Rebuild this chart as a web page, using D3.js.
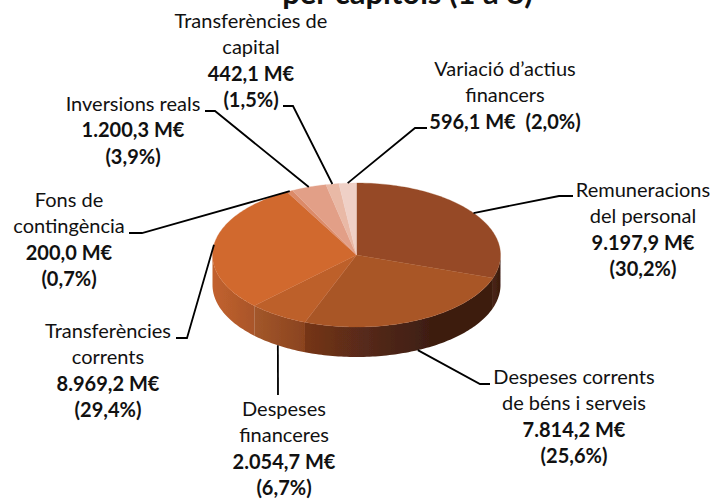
<!DOCTYPE html>
<html>
<head>
<meta charset="utf-8">
<script src="https://cdn.jsdelivr.net/npm/d3@7"></script>
<style>
html, body { margin: 0; padding: 0; background: #fff; }
svg { display: block; }
text { font-family: Lato, "Open Sans", sans-serif; fill: #111; text-anchor: middle; }
</style>
</head>
<body>
<div id="canvas"></div>
<script>
// chapters in drawing order, clockwise from 12 o'clock
const categories = [
    ["Remuneracions", "del personal"],
    ["Despeses corrents", "de béns i serveis"],
    ["Despeses", "financeres"],
    ["Transferències", "corrents"],
    ["Fons de", "contingència"],
    ["Inversions reals"],
    ["Transferències de", "capital"],
    ["Variació d’actius", "financers"]
];
const amounts = [9197.9, 7814.2, 2054.7, 8969.2, 200.0, 1200.3, 442.1, 596.1];
const amountLabels = ["9.197,9 M€", "7.814,2 M€", "2.054,7 M€", "8.969,2 M€", "200,0 M€", "1.200,3 M€", "442,1 M€", "596,1 M€"];
const shareLabels = ["(30,2%)", "(25,6%)", "(6,7%)", "(29,4%)", "(0,7%)", "(3,9%)", "(1,5%)", "(2,0%)"];
const titleText = "per capítols (1 a 8)";

const width = 712;
const height = 499;
const cx = 356.5, cy = 255, rx = 144, ry = 72, depth = 30;

const topColors = ["#964a25", "#a95627", "#bd602c", "#d1692f", "#dc8a68", "#e29f87", "#e9b9a6", "#efd0c6"];
// wall colours across each slice's visible side, left to right
const wallColors = [
    ["#4a2413", "#3c1d10"], ["#763518", "#55291a", "#3e1e11", "#3e1e11"], ["#a3572a", "#8a431f"], ["#c2622e", "#a9552a"],
    ["#c2622e", "#c2622e"], ["#c2622e", "#c2622e"], ["#c2622e", "#c2622e"], ["#c2622e", "#c2622e"]
];
// label blocks: centre x, first baseline, then the bend of the leader line
const labelLayout = [
    { x: 643, y: 197, line: [[559, 196], [573, 196]] },
    { x: 574, y: 384, line: [[480, 384], [490, 384]] },
    { x: 284, y: 416, line: [[278, 395]] },
    { x: 108, y: 338, line: [[187, 338], [176, 338]] },
    { x: 69, y: 207, line: [[142, 233], [129, 233]] },
    { x: 133, y: 111, line: [[215, 111], [205, 111]] },
    { x: 251, y: 28, line: [[293, 106], [283, 106]] },
    { x: 505, y: 76, line: [[415, 128], [427, 128]] }
];
const lineStep = 26.3;

const svg = d3.select("#canvas").append("svg")
    .attr("width", width)
    .attr("height", height);

const slices = d3.pie().sort(null).value(d => d)(amounts);

// tilted pie: angle measured clockwise from the top
const px = a => cx + rx * Math.sin(a);
const py = (a, dz) => cy - ry * Math.cos(a) + (dz || 0);
const midAngle = d => (d.startAngle + d.endAngle) / 2;

function arcPoints(a0, a1, dz) {
    const n = Math.max(2, Math.ceil(Math.abs(a1 - a0) / 0.02));
    return d3.range(n + 1).map(i => {
        const a = a0 + (a1 - a0) * i / n;
        return [px(a), py(a, dz)];
    });
}

const line = d3.line();
const defs = svg.append("defs");

// the source picture is a soft bitmap, so the pie gets a slight blur
defs.append("filter").attr("id", "soft")
    .append("feGaussianBlur").attr("stdDeviation", 0.6);

// wall, only the front half of the ellipse can be seen
const front = slices
    .map((d, i) => ({ i, a0: Math.max(d.startAngle, Math.PI / 2), a1: Math.min(d.endAngle, 3 * Math.PI / 2) }))
    .filter(d => d.a1 > d.a0);

front.forEach(d => {
    const stops = wallColors[d.i];
    const grad = defs.append("linearGradient")
        .attr("id", "wall" + d.i)
        .attr("gradientUnits", "userSpaceOnUse")
        .attr("x1", px(d.a1)).attr("x2", px(d.a0)).attr("y1", 0).attr("y2", 0);
    stops.forEach((c, k) => {
        grad.append("stop").attr("offset", k / (stops.length - 1)).attr("stop-color", c);
    });
});

const pieGroup = svg.append("g").attr("filter", "url(#soft)");

pieGroup.append("g").selectAll("path")
    .data(front)
    .join("path")
    .attr("fill", d => "url(#wall" + d.i + ")")
    .attr("d", d => line(arcPoints(d.a0, d.a1, 0).concat(arcPoints(d.a1, d.a0, depth))) + "Z");

// top face
pieGroup.append("g").selectAll("path")
    .data(slices)
    .join("path")
    .attr("fill", (d, i) => topColors[i])
    .attr("stroke", (d, i) => topColors[i])
    .attr("stroke-width", 0.3)
    .attr("d", d => line([[cx, cy]].concat(arcPoints(d.startAngle, d.endAngle, 0))) + "Z");

// leader lines start on the rim at the middle of the slice
svg.append("g").selectAll("path")
    .data(slices)
    .join("path")
    .attr("fill", "none")
    .attr("stroke", "#000")
    .attr("stroke-width", 1.8)
    .attr("d", (d, i) => {
        const a = midAngle(d);
        const onFront = Math.cos(a) < 0;
        return line([[px(a), py(a, onFront ? depth : 0)]].concat(labelLayout[i].line));
    });

// labels
slices.forEach((d, i) => {
    const pos = labelLayout[i];
    const t = svg.append("text").attr("font-size", 20);
    const name = categories[i];
    name.forEach((s, k) => {
        t.append("tspan").attr("x", pos.x).attr("y", pos.y + k * lineStep).text(s);
    });
    const base = pos.y + name.length * lineStep;
    if (i === 7) {
        // this one keeps amount and share on the same line
        t.append("tspan").attr("x", pos.x).attr("y", base)
            .attr("font-weight", 700)
            .text(amountLabels[i] + "\u00a0 " + shareLabels[i]);
    } else {
        t.append("tspan").attr("x", pos.x).attr("y", base).attr("font-weight", 700).text(amountLabels[i]);
        t.append("tspan").attr("x", pos.x).attr("y", base + lineStep).attr("font-weight", 700).text(shareLabels[i]);
    }
});

// cut off by the top of the picture in the reference as well
svg.append("text")
    .attr("x", 407.5)
    .attr("y", 4)
    .attr("font-size", 31)
    .attr("font-weight", 700)
    .text(titleText);
</script>
</body>
</html>
